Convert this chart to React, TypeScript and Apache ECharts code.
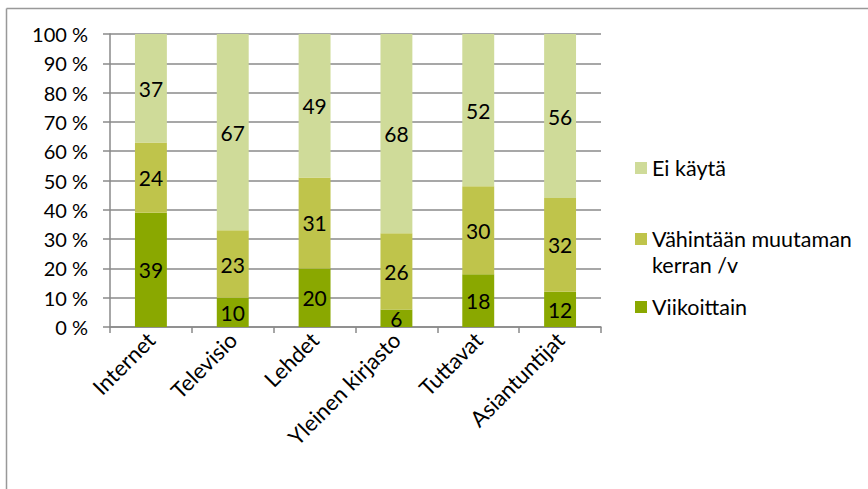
import React, { useEffect, useRef } from "react";
import * as echarts from "echarts";

const categories = ["Internet", "Televisio", "Lehdet", "Yleinen kirjasto", "Tuttavat", "Asiantuntijat"];
const viikoittain = [39, 10, 20, 6, 18, 12];
const vahintaan = [24, 23, 31, 26, 30, 32];
const eiKayta = [37, 67, 49, 68, 52, 56];
const yTicks = [0, 10, 20, 30, 40, 50, 60, 70, 80, 90, 100];

const seriesNames = ["Viikoittain", "Vähintään muutaman\nkerran /v", "Ei käytä"];
const colors = ["#8AA800", "#BFC44B", "#CFDB99"];

const FONT = "Lato";

export default function App() {
  const ref = useRef<HTMLDivElement>(null);
  useEffect(() => {
    if (!ref.current) return;
    const chart = echarts.init(ref.current, null, { renderer: "svg" });
    const values = [viikoittain, vahintaan, eiKayta];
    const legendBase = {
      orient: "vertical",
      left: 635,
      padding: 0,
      itemWidth: 12,
      itemHeight: 12,
      itemGap: 5,
      icon: "rect",
      selectedMode: false,
      textStyle: { fontFamily: FONT, fontSize: 21.5, color: "#000" },
    };
    chart.setOption({
      animation: false,
      textStyle: { fontFamily: FONT },
      grid: { left: 110, right: 267, top: 34, bottom: 162, containLabel: false },
      xAxis: {
        type: "category",
        data: categories,
        axisLine: { lineStyle: { color: "#8a8a8a", width: 1.5 } },
        axisTick: { show: true, length: 6, lineStyle: { color: "#8a8a8a", width: 1.5 } },
        axisLabel: { rotate: 45, margin: 9, color: "#000", fontSize: 22, fontFamily: FONT, interval: 0 },
      },
      yAxis: {
        type: "value",
        min: 0,
        max: yTicks[yTicks.length - 1],
        interval: 10,
        axisLine: { show: true, lineStyle: { color: "#8a8a8a", width: 1.5 } },
        axisTick: { show: true, length: 7, lineStyle: { color: "#8a8a8a", width: 1.5 } },
        splitLine: { show: true, lineStyle: { color: "#8a8a8a", width: 1.5 } },
        axisLabel: { formatter: (v: number) => `${v} %`, color: "#000", fontSize: 20, fontFamily: FONT, margin: 22 },
      },
      legend: [
        { ...legendBase, top: 157, data: [seriesNames[2]] },
        {
          ...legendBase,
          top: 200,
          data: [seriesNames[1]],
          formatter: (name: string) => " \n" + name,
          textStyle: { ...legendBase.textStyle, lineHeight: 26 },
        },
        { ...legendBase, top: 296, data: [seriesNames[0]] },
      ],
      series: seriesNames.map((name, i) => ({
        name,
        type: "bar",
        stack: "total",
        barWidth: "39%",
        data: values[i],
        itemStyle: { color: colors[i] },
        label: {
          show: true,
          position: "inside",
          color: "#000",
          fontSize: 21,
          fontFamily: FONT,
          formatter: (p: any) => String(p.value),
        },
      })),
      graphic: [
        { type: "line", shape: { x1: 6.5, y1: 8.5, x2: 868, y2: 8.5 }, style: { stroke: "#999", lineWidth: 1.5 } },
        { type: "line", shape: { x1: 6.5, y1: 8.5, x2: 6.5, y2: 489 }, style: { stroke: "#999", lineWidth: 1.5 } },
      ],
    });
    return () => chart.dispose();
  }, []);
  return <div ref={ref} style={{ position: "fixed", left: 0, top: 0, width: 868, height: 489, background: "#fff" }} />;
}
